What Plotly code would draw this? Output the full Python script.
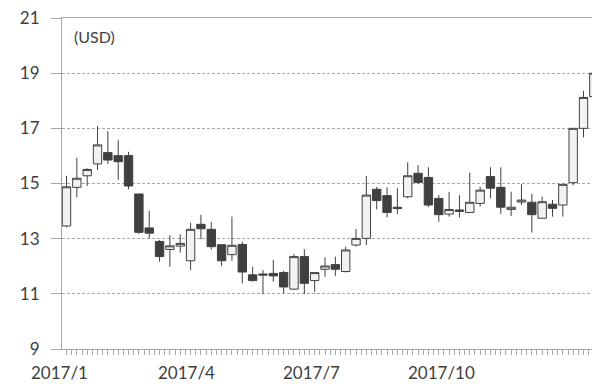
import plotly.graph_objects as go

# Weekly OHLC prices (USD), first week of Jan 2017 onward
opens = [13.46, 14.86, 15.28, 15.71, 16.12, 16.01, 16.01, 14.62, 13.39, 12.90,
         12.61, 12.73, 12.20, 13.52, 13.34, 12.78, 12.42, 12.79, 11.69, 11.72,
         11.74, 11.77, 11.17, 12.35, 11.48, 11.89, 12.06, 11.81, 12.77, 13.01,
         14.79, 14.56, 14.14, 14.52, 15.37, 15.22, 14.46, 13.89, 14.04, 13.95,
         14.28, 15.25, 14.86, 14.06, 14.33, 14.32, 13.74, 14.25, 14.22, 15.03,
         17.00, 18.15]
highs = [15.28, 15.93, 15.55, 17.08, 16.90, 16.58, 16.15, 14.62, 14.01, 12.95,
         13.13, 13.16, 13.58, 13.86, 13.61, 12.78, 13.80, 12.89, 11.98, 11.86,
         12.23, 11.83, 12.44, 12.62, 11.77, 12.32, 12.35, 12.71, 13.35, 15.27,
         14.88, 14.86, 14.83, 15.77, 15.67, 15.59, 14.58, 14.70, 14.58, 15.39,
         14.88, 15.59, 15.59, 14.70, 14.97, 14.62, 14.52, 14.40, 14.97, 17.00,
         18.36, 19.36]
lows = [13.41, 14.50, 14.91, 15.49, 15.71, 15.13, 14.79, 13.17, 13.01, 12.16,
        11.98, 12.49, 11.86, 12.98, 12.61, 12.01, 12.20, 11.38, 11.44, 10.99,
        11.44, 11.02, 11.14, 10.99, 11.08, 11.62, 11.65, 11.77, 12.71, 12.77,
        14.06, 13.77, 13.89, 14.46, 15.00, 14.14, 13.61, 13.80, 13.77, 13.95,
        14.16, 14.46, 13.89, 13.82, 14.22, 13.22, 13.74, 13.80, 13.80, 14.94,
        16.67, 18.10]
closes = [14.88, 15.19, 15.51, 16.40, 15.85, 15.79, 14.91, 13.23, 13.20, 12.35,
          12.74, 12.83, 13.34, 13.36, 12.71, 12.20, 12.76, 11.79, 11.48, 11.68,
          11.65, 11.25, 12.35, 11.38, 11.77, 12.01, 11.89, 12.59, 13.01, 14.58,
          14.38, 13.95, 14.09, 15.28, 15.04, 14.22, 13.87, 14.06, 13.99, 14.32,
          14.76, 14.83, 14.14, 14.14, 14.40, 13.87, 14.34, 14.10, 14.97, 17.00,
          18.12, 19.00]

month_labels = ["2017/1", "2017/4", "2017/7", "2017/10"]
y_ticks = [9, 11, 13, 15, 17, 19, 21]

weeks = list(range(len(opens)))

# label anchor positions along the week axis
label_pos = [-0.72, 11.56, 23.65, 36.3]
x_range = [-0.435, 50.82]


def to_paper(p):
    return (p - x_range[0]) / (x_range[1] - x_range[0])


font_family = "Lato, 'Liberation Sans', sans-serif"
axis_gray = "#a6a6a6"
text_gray = "#404040"

fig = go.Figure(
    go.Candlestick(
        x=weeks, open=opens, high=highs, low=lows, close=closes,
        increasing=dict(line=dict(color="#404040", width=1), fillcolor="#f2f2f2"),
        decreasing=dict(line=dict(color="#404040", width=1), fillcolor="#404040"),
        whiskerwidth=0,
        hoverinfo="x+y",
    )
)

annotations = [
    dict(text=lab, x=to_paper(p), y=-0.072, xref="paper", yref="paper",
         showarrow=False, xanchor="center", yanchor="middle",
         font=dict(family=font_family, size=17, color=text_gray))
    for lab, p in zip(month_labels, label_pos)
]
annotations.append(
    dict(text="(USD)", x=0.018, y=0.944, xref="paper", yref="paper",
         showarrow=False, xanchor="left", yanchor="middle",
         font=dict(family=font_family, size=16, color=text_gray))
)

fig.update_layout(
    width=592, height=384,
    margin=dict(l=62, r=0, t=18, b=35),
    paper_bgcolor="white", plot_bgcolor="white",
    showlegend=False,
    boxgap=0.1, boxgroupgap=0.1,
    annotations=annotations,
    xaxis=dict(
        range=x_range,
        rangeslider=dict(visible=False),
        showgrid=False, zeroline=False,
        showline=True, linecolor=axis_gray, linewidth=1, mirror=True,
        tickmode="linear", tick0=-0.5, dtick=0.5,
        ticks="outside", ticklen=5, tickcolor=axis_gray, tickwidth=1,
        showticklabels=False,
    ),
    yaxis=dict(
        range=[9, 21],
        tickmode="array", tickvals=y_ticks,
        showgrid=True, gridcolor=axis_gray, griddash="3px,2px", gridwidth=1,
        zeroline=False,
        showline=True, linecolor=axis_gray, linewidth=1,
        ticks="outside", ticklen=10, tickcolor=axis_gray, tickwidth=1,
        ticklabelstandoff=8,
        tickfont=dict(family=font_family, size=17, color=text_gray),
    ),
)

fig.write_html("out.html")
